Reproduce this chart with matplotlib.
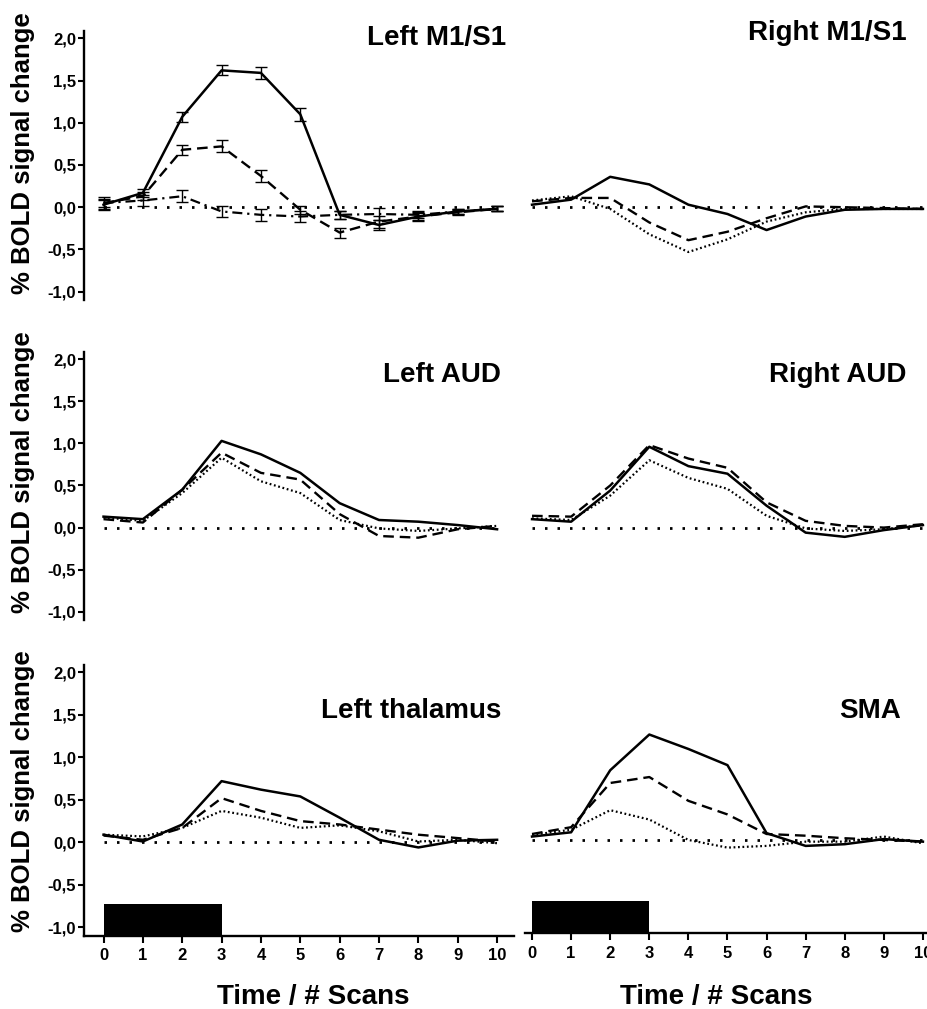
import numpy as np
import matplotlib.pyplot as plt

plt.rcParams['font.family'] = ['Liberation Sans', 'DejaVu Sans']
plt.rcParams['font.weight'] = 'bold'

scans = [0, 1, 2, 3, 4, 5, 6, 7, 8, 9, 10]
baseline = [0, 0, 0, 0, 0, 0, 0, 0, 0, 0, 0]
y_ticks = [-1.0, -0.5, 0.0, 0.5, 1.0, 1.5, 2.0]
y_ticklabels = ['-1,0', '-0,5', '0,0', '0,5', '1,0', '1,5', '2,0']
stim_start, stim_len, stim_top = 0, 3, -0.72

# Left M1/S1 (with error bars)
m1l_solid = [0.03, 0.17, 1.07, 1.62, 1.59, 1.10, -0.09, -0.21, -0.11, -0.05, -0.02]
m1l_solid_err = [0.06, 0.05, 0.06, 0.06, 0.07, 0.08, 0.05, 0.06, 0.05, 0.03, 0.03]
m1l_dash = [0.05, 0.13, 0.68, 0.72, 0.37, -0.03, -0.30, -0.17, -0.11, -0.06, -0.02]
m1l_dash_err = [0.05, 0.05, 0.06, 0.07, 0.07, 0.05, 0.06, 0.07, 0.04, 0.03, 0.03]
m1l_dd = [0.05, 0.08, 0.13, -0.05, -0.09, -0.11, -0.09, -0.08, -0.09, -0.05, -0.02]
m1l_dd_err = [0.07, 0.07, 0.07, 0.06, 0.07, 0.06, 0.05, 0.07, 0.04, 0.03, 0.03]

# Right M1/S1
m1r_solid = [0.03, 0.09, 0.36, 0.27, 0.03, -0.08, -0.27, -0.11, -0.03, -0.02, -0.02]
m1r_dash = [0.07, 0.11, 0.11, -0.18, -0.39, -0.29, -0.13, 0.01, 0.0, -0.01, -0.02]
m1r_dot = [0.08, 0.13, -0.02, -0.32, -0.53, -0.38, -0.17, -0.06, -0.02, -0.02, -0.02]

# Left AUD
audl_solid = [0.13, 0.10, 0.45, 1.03, 0.87, 0.65, 0.29, 0.09, 0.07, 0.03, -0.02]
audl_dash = [0.10, 0.06, 0.45, 0.89, 0.65, 0.57, 0.16, -0.10, -0.12, -0.02, 0.02]
audl_dot = [0.12, 0.08, 0.41, 0.83, 0.55, 0.41, 0.09, -0.01, -0.04, -0.01, 0.02]

# Right AUD
audr_solid = [0.10, 0.07, 0.44, 0.96, 0.73, 0.64, 0.26, -0.06, -0.11, -0.03, 0.03]
audr_dash = [0.14, 0.13, 0.50, 0.98, 0.82, 0.71, 0.30, 0.08, 0.02, 0.0, 0.04]
audr_dot = [0.11, 0.09, 0.38, 0.80, 0.59, 0.46, 0.14, -0.01, -0.04, -0.02, 0.03]

# Left thalamus
thal_solid = [0.09, 0.01, 0.21, 0.72, 0.62, 0.54, 0.29, 0.03, -0.06, 0.02, 0.03]
thal_dash = [0.08, 0.03, 0.17, 0.52, 0.37, 0.25, 0.21, 0.15, 0.09, 0.05, 0.01]
thal_dot = [0.09, 0.07, 0.17, 0.37, 0.29, 0.17, 0.20, 0.13, 0.01, 0.03, -0.01]

# SMA
sma_solid = [0.04, 0.09, 0.82, 1.24, 1.07, 0.88, 0.08, -0.07, -0.05, 0.01, -0.02]
sma_dash = [0.07, 0.15, 0.67, 0.74, 0.46, 0.30, 0.07, 0.05, 0.02, 0.0, -0.02]
sma_dot = [0.06, 0.12, 0.35, 0.24, 0.0, -0.09, -0.07, -0.02, -0.02, 0.04, -0.04]

W, H = 928, 1009
fig = plt.figure(figsize=(W / 100, H / 100), dpi=100)

def px_axes(x0, x1, ytop, ybot):
    return fig.add_axes([x0 / W, 1 - ybot / H, (x1 - x0) / W, (ybot - ytop) / H])

SOLID = dict(color='black', lw=1.8, ls='-')
DASH = dict(color='black', lw=1.7, ls=(0, (4.5, 2.5)))
DOT = dict(color='black', lw=1.6, ls=(0, (0.8, 1.2)))
DASHDOT = dict(color='black', lw=1.6, ls=(0, (4.5, 2.2, 1, 2.2)))
ZERO = dict(color='black', lw=2.0, ls=(0, (0.9, 3.6)))

rows = [(31, 300), (352, 620), (665, 935.7)]
axes = {}
for r, (yt, yb) in enumerate(rows):
    axl = px_axes(84, 514, yt, yb)
    axl.set_xlim(-0.496, 10.43)
    off = -2.4 if r == 2 else 0
    axr = px_axes(525, 928, yt + off, yb + off)
    axr.set_xlim(-0.18, 10.13)
    for ax in (axl, axr):
        ax.set_ylim(-1.098, 2.086)
        for s in ax.spines.values():
            s.set_visible(False)
            s.set_linewidth(1.7)
        ax.tick_params(axis='both', width=1.5, length=4, labelsize=12, pad=1.5)
        ax.set_xticks([])
        ax.set_yticks([])
        ax.patch.set_alpha(0)
        ax.plot(scans, baseline, zorder=1, **ZERO)
    axl.spines['left'].set_visible(True)
    axl.set_yticks(y_ticks)
    axl.set_yticklabels(y_ticklabels, fontweight='bold')
    axes[r] = (axl, axr)

# row 1
axl, axr = axes[0]
axl.errorbar(scans, m1l_solid, yerr=m1l_solid_err, capsize=4, elinewidth=1, capthick=1, **SOLID)
axl.errorbar(scans, m1l_dash, yerr=m1l_dash_err, capsize=4, elinewidth=1, capthick=1, **DASH)
axl.errorbar(scans, m1l_dd, yerr=m1l_dd_err, capsize=4, elinewidth=1, capthick=1, **DASHDOT)
axr.plot(scans, m1r_solid, **SOLID)
axr.plot(scans, m1r_dash, **DASH)
axr.plot(scans, m1r_dot, **DOT)

# row 2
axl, axr = axes[1]
axl.plot(scans, audl_solid, **SOLID)
axl.plot(scans, audl_dash, **DASH)
axl.plot(scans, audl_dot, **DOT)
axr.plot(scans, audr_solid, **SOLID)
axr.plot(scans, audr_dash, **DASH)
axr.plot(scans, audr_dot, **DOT)

# row 3
axl, axr = axes[2]
axl.plot(scans, thal_solid, **SOLID)
axl.plot(scans, thal_dash, **DASH)
axl.plot(scans, thal_dot, **DOT)
axr.plot(scans, sma_solid, **SOLID)
axr.plot(scans, sma_dash, **DASH)
axr.plot(scans, sma_dot, **DOT)
for ax in (axl, axr):
    ax.spines['bottom'].set_visible(True)
    ax.set_xticks(scans)
    ax.set_xticklabels([str(s) for s in scans], fontweight='bold')
    ax.tick_params(axis='x', length=5, pad=4)
    ax.bar(stim_start, stim_top - (-1.098), bottom=-1.098, width=stim_len,
           align='edge', color='black', zorder=3)

# titles (right aligned, baseline)
titles = [('Left M1/S1', 506, 45), ('Right M1/S1', 907, 40),
          ('Left AUD', 501, 382), ('Right AUD', 906, 382),
          ('Left thalamus', 501, 718), ('SMA', 901, 718)]
for txt, x, y in titles:
    fig.text(x / W, 1 - y / H, txt, ha='right', va='baseline',
             fontsize=20, fontweight='bold')

for yc in (153, 472, 791):
    fig.text(23 / W, 1 - yc / H, '% BOLD signal change', rotation=90,
             ha='center', va='center', fontsize=18.5, fontweight='bold')

for xc in (313, 716):
    fig.text(xc / W, 1 - 1004 / H, 'Time / # Scans', ha='center', va='baseline',
             fontsize=20, fontweight='bold')

fig.savefig('out.png', dpi=100)
